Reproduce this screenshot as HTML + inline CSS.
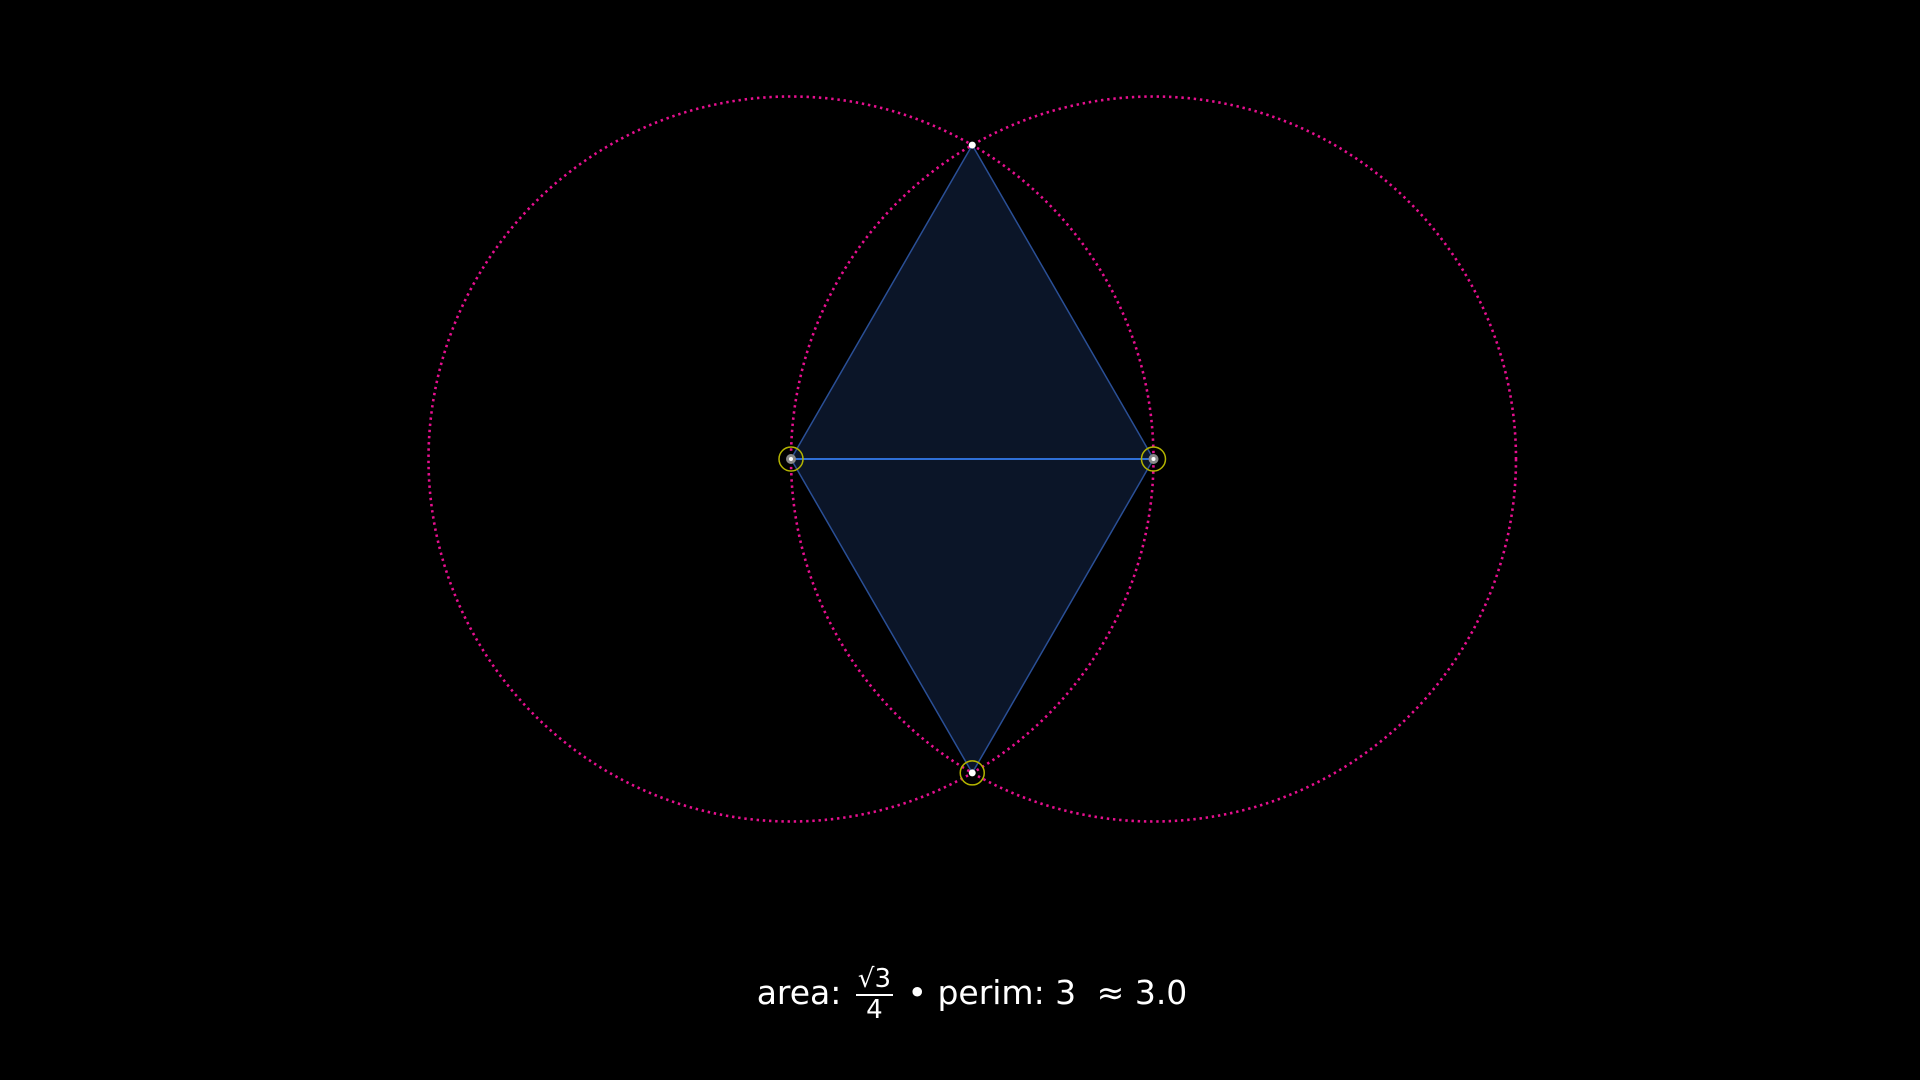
<!DOCTYPE html>
<html><head><meta charset="utf-8"><style>
html,body{margin:0;padding:0;background:#000;width:1920px;height:1080px;overflow:hidden}
svg{display:block}
.lbl{position:absolute;left:12px;top:965px;width:1920px;text-align:center;color:#fff;font-family:"DejaVu Sans","Liberation Sans",sans-serif;font-size:33px}
.frac{display:inline-block;vertical-align:middle;text-align:center;font-size:26px;line-height:1.1;margin:0 4px}
.frac .n{border-bottom:2px solid #fff;padding:0 2px}
.gap{display:inline-block;width:10px}
</style></head><body>
<svg id="chart" width="1920" height="1080"></svg>
<div class="lbl">area: <span class="frac"><div class="n">√3</div><div>4</div></span> • perim: 3<span class="gap"></span> ≈ 3.0</div>
<script>
// data in unit coordinates
const centers = [[0,0],[1,0]];
const radius = 1;
const vertices = [[0,0],[1,0],[0.5,0.8660254],[0.5,-0.8660254]];
const markedVertices = [0,1,3];
const scale = 362.5, ox = 791, oy = 459;
const X = x => ox + x*scale, Y = y => oy - y*scale;
const svg = document.getElementById('chart');
const NS = 'http://www.w3.org/2000/svg';
function mk(tag, attrs){const e=document.createElementNS(NS,tag);for(const k in attrs)e.setAttribute(k,attrs[k]);svg.appendChild(e);return e;}
const P = i => X(vertices[i][0])+','+Y(vertices[i][1]);
let e = mk('polygon',{points:[P(0),P(2),P(1),P(3)].join(' '),fill:'#0b1528',stroke:'#2a4f96','stroke-width':1.5});


e = mk('line',{x1:X(vertices[0][0]),y1:Y(vertices[0][1]),x2:X(vertices[1][0]),y2:Y(vertices[1][1]),stroke:'#2f6fd6','stroke-width':2});


centers.forEach((c,i)=>{
  const el = mk('circle',{cx:X(c[0]),cy:Y(c[1]),r:radius*scale,fill:'none',stroke:'#e6108f','stroke-width':2.6,'stroke-dasharray':'2.4 3.8'});
  
  
});
markedVertices.forEach(i=>{
  const el = mk('circle',{cx:X(vertices[i][0]),cy:Y(vertices[i][1]),r:12,fill:'none',stroke:'#b4b400','stroke-width':1.5});
  
  
});
vertices.forEach((v,i)=>{
  const el = mk('circle',{cx:X(v[0]),cy:Y(v[1]),r:3.5,fill:'#fff',stroke:(i<2?'#888':'none'),'stroke-width':(i<2?3:0)});
  
  
});
</script>
</body></html>
